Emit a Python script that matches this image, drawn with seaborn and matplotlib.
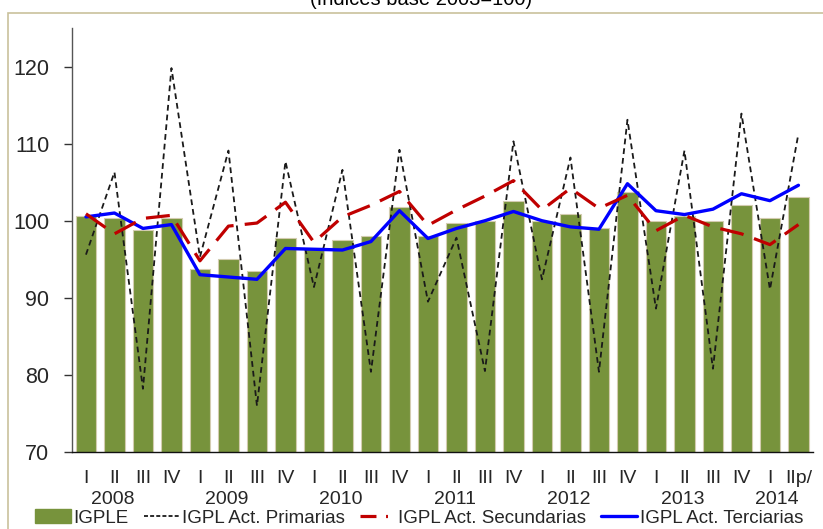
import numpy as np
import pandas as pd
import matplotlib
matplotlib.use("Agg")
import matplotlib.pyplot as plt
import matplotlib.transforms as mtransforms
from matplotlib.patches import Rectangle
from matplotlib.lines import Line2D
from matplotlib.patches import Patch
import seaborn as sns

# ---------------- data ----------------
years = ["2008", "2009", "2010", "2011", "2012", "2013", "2014"]
quarters = ["I", "II", "III", "IV"] * 6 + ["I", "IIp/"]
year_of_period = ["2008"] * 4 + ["2009"] * 4 + ["2010"] * 4 + ["2011"] * 4 + \
                 ["2012"] * 4 + ["2013"] * 4 + ["2014"] * 2

igple = [100.6, 100.4, 98.8, 100.4, 93.7, 95.1, 93.5, 97.8,
         96.4, 97.5, 98.0, 101.8, 98.0, 99.7, 100.0, 102.6,
         100.0, 100.9, 99.0, 103.7, 100.0, 100.6, 100.0, 102.0,
         100.3, 103.1]
primarias = [95.6, 106.3, 78.2, 119.8, 95.3, 109.1, 76.0, 107.7,
             91.4, 106.6, 80.4, 109.2, 89.5, 97.8, 80.5, 110.3,
             92.4, 108.2, 80.4, 113.1, 88.6, 109.1, 80.8, 113.9,
             91.1, 111.3]
secundarias = [100.9, 98.3, 100.3, 100.7, 94.8, 99.3, 99.7, 102.4,
               97.2, 100.5, 102.0, 103.8, 99.4, 101.4, 103.2, 105.2,
               101.4, 104.2, 101.6, 103.3, 98.7, 100.7, 99.2, 98.3,
               96.9, 99.5]
terciarias = [100.5, 101.0, 99.0, 99.5, 93.0, 92.7, 92.4, 96.4,
              96.3, 96.2, 97.3, 101.3, 97.7, 99.0, 100.0, 101.2,
              100.0, 99.2, 98.9, 104.8, 101.3, 100.8, 101.5, 103.5,
              102.6, 104.6]

labels = ["IGPLE", "IGPL Act. Primarias", "IGPL Act. Secundarias",
          "IGPL Act. Terciarias"]
title_text = "(Índices base 2003=100)"

periods = [f"{y}-{q}" for y, q in zip(year_of_period, quarters)]
df = pd.DataFrame({"periodo": periods, "idx": np.arange(len(periods)),
                   "igple": igple, "prim": primarias,
                   "sec": secundarias, "ter": terciarias})

# ---------------- style ----------------
sns.set_style("white")
plt.rcParams["font.family"] = ["Liberation Sans", "DejaVu Sans"]

fig = plt.figure(figsize=(8.23, 5.29), dpi=100)
W, H = 823, 529
ax = fig.add_axes([71.7 / W, 1 - 452 / H, (812.7 - 71.7) / W, (452 - 28) / H])

# outer frame
fig.patches.append(Rectangle((8 / W, -0.1), 1.2, 1 - 13 / H + 0.1,
                             transform=fig.transFigure, fill=False,
                             edgecolor="#c9c19c", lw=1.2))
fig.text(421 / W, 1 - 5 / H, title_text, ha="center", va="baseline",
         fontsize=14.5, color="black")

BLACK, RED, BLUE, GREEN = "#1a1a1a", "#C00000", "#0000FF", "#77933C"

sns.barplot(data=df, x="periodo", y="igple", ax=ax, color=GREEN,
            saturation=1, width=0.73, edgecolor="#d3ccb0", linewidth=0.8,
            errorbar=None, zorder=1)
sns.lineplot(data=df, x="idx", y="prim", ax=ax, color=BLACK, lw=1.3,
             linestyle=(0, (3.2, 2.2)), zorder=3)
sns.lineplot(data=df, x="idx", y="ter", ax=ax, color=BLUE, lw=2.4,
             zorder=4)
sns.lineplot(data=df, x="idx", y="sec", ax=ax, color=RED, lw=2.3,
             linestyle=(0, (7.5, 3.5)), zorder=5)

ax.set_xlim(-0.5, len(periods) - 0.5)
ax.set_ylim(70, 125)
ax.set_yticks([70, 80, 90, 100, 110, 120])
ax.set_xlabel("")
ax.set_ylabel("")

ax.set_xticks(np.arange(len(periods)))
ax.set_xticklabels(quarters)
ax.tick_params(axis="x", which="major", length=0, pad=13, labelsize=14)
ax.set_xticks(np.arange(-0.5, len(periods) - 2, 4), minor=True)
ax.tick_params(axis="x", which="minor", length=9, direction="inout",
               width=1, color="#333333")
ax.tick_params(axis="y", length=6, width=1, direction="out", pad=10,
               labelsize=15.5, color="#333333", left=True)

for s in ["top", "right"]:
    ax.spines[s].set_visible(False)
ax.spines["left"].set_color("#555555")
ax.spines["bottom"].set_color("#111111")
ax.spines["left"].set_linewidth(1)
ax.spines["bottom"].set_linewidth(1)

# year labels
trans = mtransforms.blended_transform_factory(ax.transData, ax.transAxes)
for k, y in enumerate(years):
    n = year_of_period.count(y)
    start = year_of_period.index(y)
    xpos = start + (0.95 if n == 4 else 0.25)
    ax.text(xpos, -47 / 424, y, transform=trans, ha="center", va="center",
            fontsize=14)

handles = [Patch(facecolor=GREEN, edgecolor=GREEN),
           Line2D([], [], color=BLACK, lw=1.3, dashes=(2.2, 1.2)),
           Line2D([], [], color=RED, lw=2.3, dashes=(5, 3, 0.6, 3)),
           Line2D([], [], color=BLUE, lw=2.4)]
fig.legend(handles, labels, loc="center", bbox_to_anchor=(419 / W, 1 - 518 / H),
           ncol=4, frameon=False, fontsize=13.5, handlelength=1.9,
           handletextpad=0.15, columnspacing=0.8, borderpad=0, borderaxespad=0)

fig.savefig("out.png", dpi=100)
